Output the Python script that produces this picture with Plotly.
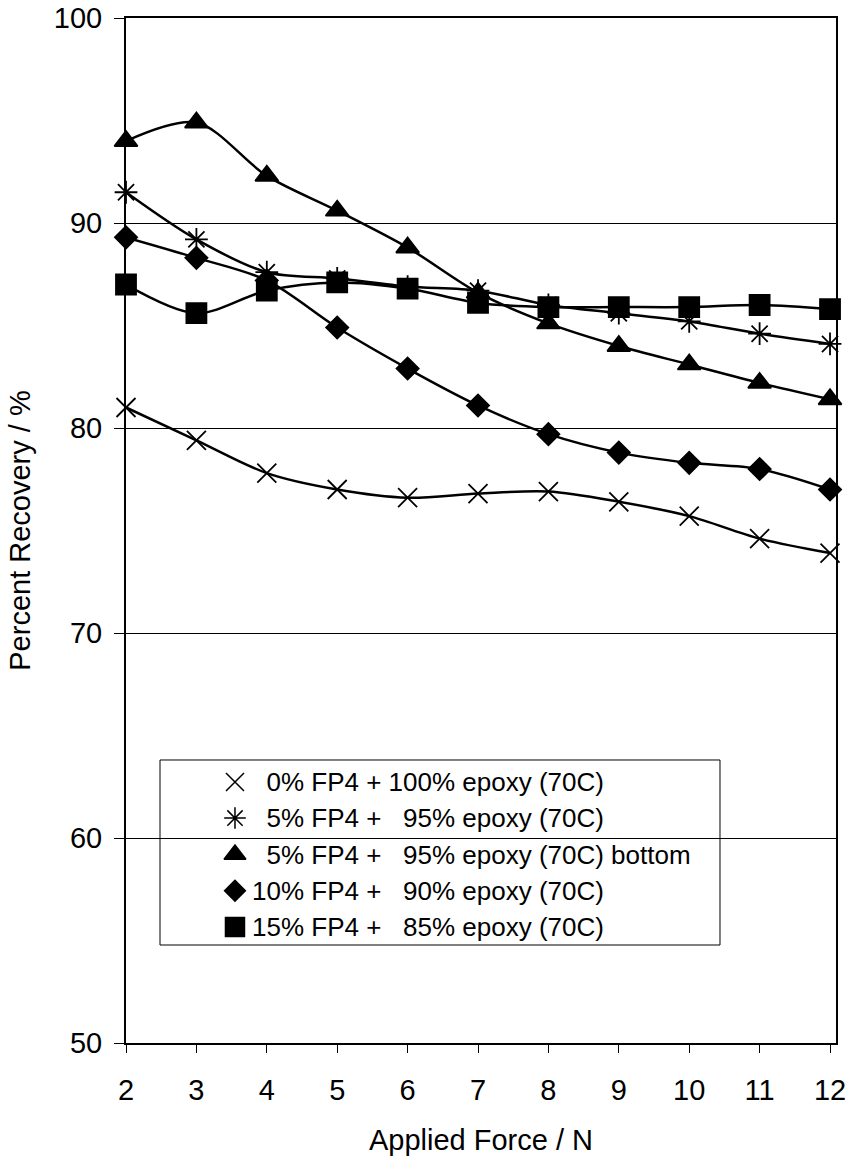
import plotly.graph_objects as go

force = [2, 3, 4, 5, 6, 7, 8, 9, 10, 11, 12]

fp0 = [81.0, 79.4, 77.8, 77.0, 76.6, 76.8, 76.9, 76.4, 75.7, 74.6, 73.9]
fp5 = [91.5, 89.2, 87.6, 87.3, 86.9, 86.7, 86.0, 85.6, 85.2, 84.6, 84.1]
fp5_bottom = [94.0, 94.9, 92.3, 90.6, 88.8, 86.6, 85.1, 84.0, 83.1, 82.2, 81.4]
fp10 = [89.3, 88.3, 87.2, 84.9, 82.9, 81.1, 79.7, 78.8, 78.3, 78.0, 77.0]
fp15 = [87.0, 85.6, 86.7, 87.1, 86.8, 86.1, 85.9, 85.9, 85.9, 86.0, 85.8]

NB = "\u00a0"
names = [
    NB * 2 + "0% FP4 + 100% epoxy (70C)",
    NB * 2 + "5% FP4 +" + NB * 3 + "95% epoxy (70C)",
    NB * 2 + "5% FP4 +" + NB * 3 + "95% epoxy (70C) bottom",
    "10% FP4 +" + NB * 3 + "90% epoxy (70C)",
    "15% FP4 +" + NB * 3 + "85% epoxy (70C)",
]
series = [fp0, fp5, fp5_bottom, fp10, fp15]
symbols = ["x-thin-open", "asterisk-open", "triangle-up", "diamond", "square"]
sizes = [19, 19, 20, 17, 20]

x_range = [2, 12.085]
y_range = [50, 100]

# legend layout (fractions of the plot area)
leg_key_x = 0.1535
leg_text_x = 0.1746
leg_rows = [0.2546, 0.2195, 0.1839, 0.1485, 0.1132]

fig = go.Figure()
for ys, sym, sz in zip(series, symbols, sizes):
    fig.add_trace(go.Scatter(
        x=force, y=ys, mode="lines+markers", showlegend=False,
        line=dict(color="black", width=2.5, shape="spline", smoothing=0.9),
        marker=dict(symbol=sym, size=sz, color="black",
                    line=dict(color="black", width=1.8)),
        cliponaxis=False,
    ))

# legend keys, placed in the plot area at the legend fractions
kx = x_range[0] + leg_key_x * (x_range[1] - x_range[0])
kys = [y_range[0] + f * (y_range[1] - y_range[0]) for f in leg_rows]
fig.add_trace(go.Scatter(
    x=[kx] * len(names), y=kys, mode="markers",
    showlegend=False, hoverinfo="skip",
    marker=dict(symbol=symbols, size=[s - 1 for s in sizes], color="black",
                opacity=1, line=dict(color="black", width=1.5)),
    cliponaxis=False,
))

font = "Liberation Sans, Arial, sans-serif"
annotations = [
    dict(x=leg_text_x, y=yr, xref="paper", yref="paper", text=nm,
         showarrow=False, xanchor="left", yanchor="middle",
         font=dict(size=26, family=font, color="black"))
    for nm, yr in zip(names, leg_rows)
]

fig.update_layout(
    width=850, height=1168,
    margin=dict(l=126, r=14, t=18, b=125, autoexpand=False),
    paper_bgcolor="white", plot_bgcolor="white",
    font=dict(family=font, size=29, color="black"),
    showlegend=False,
    annotations=annotations,
    shapes=[dict(
        type="rect", xref="paper", yref="paper",
        x0=0.0479, x1=0.8366, y0=0.0956, y1=0.2761,
        line=dict(color="black", width=1), fillcolor="white",
        opacity=1, layer="between",
    )],
    xaxis=dict(
        range=x_range, tickmode="array", tickvals=force,
        showgrid=False, zeroline=False, automargin=False,
        showline=True, linecolor="black", linewidth=2, mirror=True,
        ticks="outside", ticklen=8, tickcolor="black", tickwidth=1,
        ticklabelstandoff=12, ticklabeloverflow="allow",
        title=dict(text="Applied Force / N", font=dict(size=29), standoff=25),
    ),
    yaxis=dict(
        range=y_range, tickvals=[50, 60, 70, 80, 90, 100],
        showgrid=True, gridcolor="black", gridwidth=1, zeroline=False,
        automargin=False,
        showline=True, linecolor="black", linewidth=2, mirror=True,
        ticks="outside", ticklen=10, tickcolor="black", tickwidth=1,
        ticklabelstandoff=6, ticklabeloverflow="allow",
        title=dict(text="Percent Recovery / %", font=dict(size=29)),
    ),
)

fig.write_html("out.html")
